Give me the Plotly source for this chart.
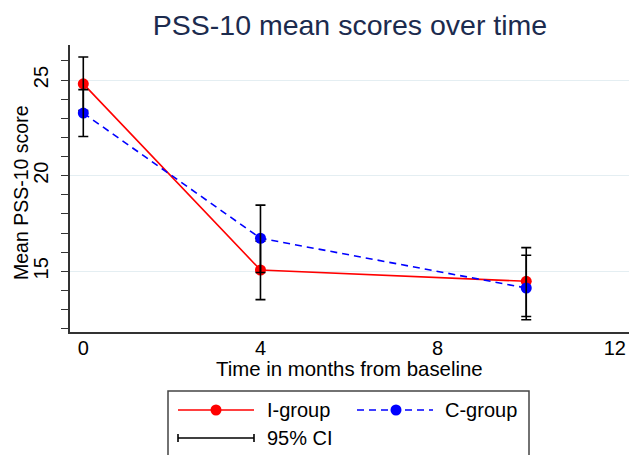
import plotly.graph_objects as go
import numpy as np

# ---- data ----
months = [0, 4, 10]
i_mean = [24.8, 15.07, 14.48]
i_lo = [23.4, 13.52, 12.64]
i_hi = [26.2, 16.58, 16.24]
c_mean = [23.27, 16.73, 14.13]
c_lo = [22.05, 14.94, 12.47]
c_hi = [24.5, 18.46, 15.84]
x_ticks = [0, 4, 8, 12]
y_ticks = [15, 20, 25]

FONT = "Liberation Sans, Arial, sans-serif"
W, H = 629, 455
PL, PR, PT, PB = 70, 629, 45, 332


def px(x):
    return (x - PL) / (PR - PL)


def py(y):
    return (PB - y) / (PB - PT)


def ci_trace(mean, lo, hi):
    return go.Scatter(
        x=months, y=mean, mode="markers",
        marker=dict(size=1, color="rgba(0,0,0,0)"),
        error_y=dict(type="data", symmetric=False,
                     array=list(np.array(hi) - np.array(mean)),
                     arrayminus=list(np.array(mean) - np.array(lo)),
                     color="black", thickness=1.6, width=5),
        showlegend=False, hoverinfo="skip")


fig = go.Figure()
fig.add_trace(go.Scatter(x=months, y=i_mean, mode="lines+markers", name="I-group",
                         line=dict(color="#ff0000", width=1.6),
                         marker=dict(color="#ff0000", size=11), showlegend=False))
fig.add_trace(ci_trace(i_mean, i_lo, i_hi))
fig.add_trace(go.Scatter(x=months, y=c_mean, mode="lines+markers", name="C-group",
                         line=dict(color="#0000ff", width=1.6, dash="7px,5px"),
                         marker=dict(color="#0000ff", size=11), showlegend=False))
fig.add_trace(ci_trace(c_mean, c_lo, c_hi))

shapes = []
annos = []
# legend box
shapes.append(dict(type="rect", xref="paper", yref="paper", x0=px(168), x1=px(529),
                   y0=py(462), y1=py(391), line=dict(color="#444444", width=1.5),
                   fillcolor="white", layer="above"))
# I-group entry
shapes.append(dict(type="line", xref="paper", yref="paper", x0=px(178), x1=px(254),
                   y0=py(410), y1=py(410), line=dict(color="#ff0000", width=1.6)))
shapes.append(dict(type="circle", xref="paper", yref="paper", xsizemode="pixel", ysizemode="pixel",
                   xanchor=px(216), yanchor=py(410), x0=-5.5, x1=5.5, y0=-5.5, y1=5.5,
                   fillcolor="#ff0000", line=dict(color="#ff0000", width=0)))
# C-group entry
shapes.append(dict(type="line", xref="paper", yref="paper", x0=px(357), x1=px(433),
                   y0=py(410), y1=py(410), line=dict(color="#0000ff", width=1.6, dash="7px,5px")))
shapes.append(dict(type="circle", xref="paper", yref="paper", xsizemode="pixel", ysizemode="pixel",
                   xanchor=px(396), yanchor=py(410), x0=-5.5, x1=5.5, y0=-5.5, y1=5.5,
                   fillcolor="#0000ff", line=dict(color="#0000ff", width=0)))
# CI entry
shapes.append(dict(type="line", xref="paper", yref="paper", x0=px(178), x1=px(254),
                   y0=py(438), y1=py(438), line=dict(color="black", width=1.6)))
for xc in (178, 254):
    shapes.append(dict(type="line", xref="paper", yref="paper", x0=px(xc), x1=px(xc),
                       y0=py(434), y1=py(442), line=dict(color="black", width=1.6)))

for txt, xx, yy in [("I-group", 265, 410), ("C-group", 443, 410), ("95% CI", 265, 438)]:
    annos.append(dict(text=txt, xref="paper", yref="paper", x=px(xx), y=py(yy),
                      xanchor="left", yanchor="middle", showarrow=False,
                      font=dict(family=FONT, size=20, color="black")))

# axis titles
annos.append(dict(text="Time in months from baseline", xref="paper", yref="paper",
                  x=px(349), y=py(369), xanchor="center", yanchor="middle", showarrow=False,
                  font=dict(family=FONT, size=20.4, color="black")))
annos.append(dict(text="Mean PSS-10 score", xref="paper", yref="paper",
                  x=px(21), y=py(193), xanchor="center", yanchor="middle", showarrow=False,
                  textangle=-90, font=dict(family=FONT, size=19.5, color="black")))

fig.update_layout(
    width=W, height=H,
    margin=dict(l=PL, r=W - PR, t=PT, b=H - PB, autoexpand=False),
    paper_bgcolor="white", plot_bgcolor="white",
    font=dict(family=FONT, size=20, color="black"),
    title=dict(text="PSS-10 mean scores over time", x=350 / W,
               xanchor="center", y=1 - 25 / H, yanchor="middle", yref="container",
               font=dict(family=FONT, size=28.5, color="#1c2b4e")),
    shapes=shapes, annotations=annos,
    xaxis=dict(range=[-0.3, 12.32], tickvals=x_ticks, ticktext=[str(v) for v in x_ticks],
               showgrid=False, zeroline=False, showline=True, linecolor="#333333", linewidth=1.5,
               ticks="outside", ticklen=4, tickcolor="rgba(0,0,0,0)", ticklabelstandoff=-7,
               tickfont=dict(family=FONT, size=20, color="black")),
    yaxis=dict(range=[11.83, 26.83], tickvals=y_ticks, ticktext=[str(v) for v in y_ticks],
               showgrid=True, gridcolor="#e4eef2", gridwidth=1.2, zeroline=False,
               showline=True, linecolor="#333333", linewidth=1.5,
               ticks="outside", ticklen=7, tickcolor="#333333", tickwidth=1.3,
               tickangle=-90, ticklabelstandoff=5,
               tickfont=dict(family=FONT, size=20, color="black"),
               minor=dict(dtick=1, tick0=0, ticks="outside", ticklen=7,
                          tickcolor="#333333", tickwidth=1.3, showgrid=False)),
)

fig.write_html("out.html", config={"displayModeBar": False},
               post_script="document.body.style.margin='0px';document.body.style.overflow='hidden';")
